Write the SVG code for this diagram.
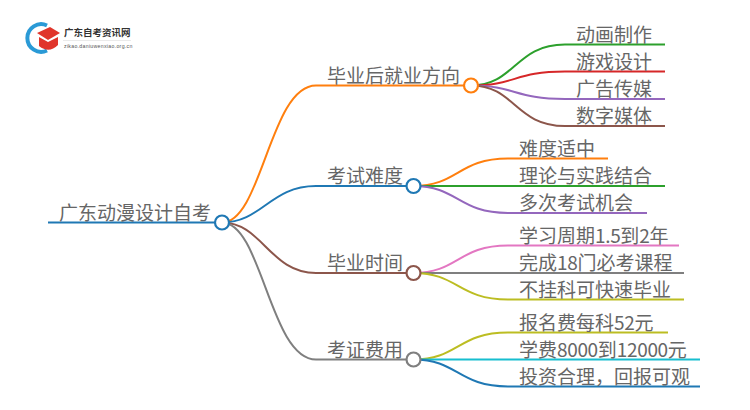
<svg xmlns="http://www.w3.org/2000/svg" width="750" height="410" viewBox="0 0 750 410">
<style>
text{font-family:"Noto Sans CJK SC","Liberation Sans",sans-serif;font-size:19px;fill:#666}
.n{letter-spacing:-.35px}
.c path{fill:none;stroke-width:2}
circle{fill:#fff;stroke-width:2.200}
</style>
<rect width="750" height="410" fill="#fff"/>
<g id="logo">
<path d="M47 25.500A13.800 13.800 0 1 0 47 50.500" fill="none" stroke="#2a9ad6" stroke-width="4"/>
<path d="M37 33L50 27L60 33L48 40Z" fill="#e0352b"/>
<path d="M39 37L48 42L58 37V45Q49 54 39 46Z" fill="#e0352b"/>
<text x="64" y="36" style="font-size:9.500px;font-weight:700;fill:#333">广东自考资讯网</text>
<rect x="63" y="40" width="68" height="0.600" fill="#ddd"/>
<text x="64" y="48" style="font-size:5.200px;letter-spacing:.3px;font-family:'Liberation Sans',sans-serif;fill:#555">zikao.daniuwenxiao.org.cn</text>
</g>
<g class="c" id="connectors">
<path stroke="#1f78b4" d="M48 222.500H222"/>
<path stroke="#ff7f0e" d="M222 222.500C262 222.500 270 85.500 316 85.500H471"/>
<path stroke="#1f78b4" d="M222 222.500C262 222.500 270 186 316 186H413.500"/>
<path stroke="#8c564b" d="M222 222.500C262 222.500 270 273 316 273H413.500"/>
<path stroke="#7f7f7f" d="M222 222.500C262 222.500 270 359.500 316 359.500H413.500"/>
<path stroke="#2ca02c" d="M471 85.500C515 85.500 515 44.500 565 44.500H665"/>
<path stroke="#d62728" d="M471 85.500C515 85.500 515 71.500 565 71.500H665"/>
<path stroke="#9467bd" d="M471 85.500C515 85.500 515 99 565 99H665"/>
<path stroke="#8c564b" d="M471 85.500C515 85.500 515 126 565 126H665"/>
<path stroke="#ff7f0e" d="M413.500 186C458 186 458 158.500 508 158.500H608"/>
<path stroke="#2ca02c" d="M413.500 186H665"/>
<path stroke="#9467bd" d="M413.500 186C458 186 458 213 508 213H647"/>
<path stroke="#e377c2" d="M413.500 273C458 273 458 245.500 508 245.500H679"/>
<path stroke="#7f7f7f" d="M413.500 273H684"/>
<path stroke="#bcbd22" d="M413.500 273C458 273 458 299.500 508 299.500H684"/>
<path stroke="#bcbd22" d="M413.500 359.500C458 359.500 458 332.500 508 332.500H668"/>
<path stroke="#17becf" d="M413.500 359.500H700"/>
<path stroke="#1f78b4" d="M413.500 359.500C458 359.500 458 386.500 508 386.500H700"/>
</g>
<g id="root"><text x="59" y="219.500">广东动漫设计自考</text><circle cx="222" cy="222.500" r="7" stroke="#1f78b4"/></g>
<g id="b1"><text x="327" y="82.500">毕业后就业方向</text><circle cx="471" cy="85.500" r="7" stroke="#ff7f0e"/></g>
<g id="b2"><text x="327" y="183">考试难度</text><circle cx="413.500" cy="186" r="7" stroke="#1f78b4"/></g>
<g id="b3"><text x="327" y="270">毕业时间</text><circle cx="413.500" cy="273" r="7" stroke="#8c564b"/></g>
<g id="b4"><text x="327" y="356.500">考证费用</text><circle cx="413.500" cy="359.500" r="7" stroke="#7f7f7f"/></g>
<g id="l1"><text x="576" y="41.500">动画制作</text></g>
<g id="l2"><text x="576" y="68.500">游戏设计</text></g>
<g id="l3"><text x="576" y="95.500">广告传媒</text></g>
<g id="l4"><text x="576" y="122.500">数字媒体</text></g>
<g id="l5"><text x="519" y="155.500">难度适中</text></g>
<g id="l6"><text x="519" y="182.500">理论与实践结合</text></g>
<g id="l7"><text x="519" y="209.500">多次考试机会</text></g>
<g id="l8"><text x="519" y="242.500">学习周期<tspan class="n">1.5</tspan>到<tspan class="n">2</tspan>年</text></g>
<g id="l9"><text x="519" y="269.500">完成<tspan class="n">18</tspan>门必考课程</text></g>
<g id="l10"><text x="519" y="296.500">不挂科可快速毕业</text></g>
<g id="l11"><text x="519" y="329.500">报名费每科<tspan class="n">52</tspan>元</text></g>
<g id="l12"><text x="519" y="356.500">学费<tspan class="n">8000</tspan>到<tspan class="n">12000</tspan>元</text></g>
<g id="l13"><text x="519" y="383.500">投资合理，回报可观</text></g>
</svg>
